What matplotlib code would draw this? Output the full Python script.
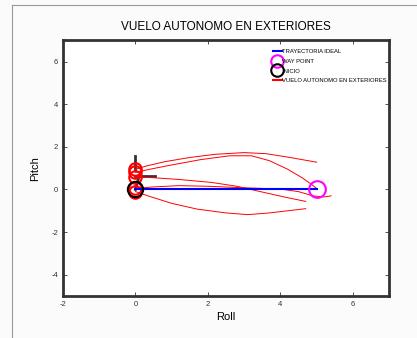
import matplotlib
matplotlib.use("Agg")
import matplotlib.pyplot as plt
from matplotlib.lines import Line2D

plt.rcParams['font.family'] = ['Liberation Sans', 'DejaVu Sans']
plt.rcParams['axes.unicode_minus'] = False

# ideal path and way point
ideal_x = [0, 5]
ideal_y = [0, 0]
waypoint = (5, 0)
start = (0, 0)

# flight runs (roll, pitch)
runs_x = [
    [0, 0.3, 0.8, 1.5, 2.2, 3.0, 3.6, 4.2, 5.0],
    [0, 0.4, 1.0, 1.8, 2.6, 3.2, 3.7, 4.2, 4.6, 4.85, 5.0],
    [0, 0.5, 1.2, 2.1, 2.8, 3.5, 4.1, 4.7],
    [0, 0.5, 1.2, 2.0, 3.0, 4.0, 4.5, 4.9, 5.2, 5.4],
    [0, 0.4, 1.0, 1.7, 2.5, 3.1, 3.7, 4.2, 4.7],
]
runs_y = [
    [0.95, 1.1, 1.3, 1.5, 1.65, 1.73, 1.68, 1.52, 1.28],
    [0.8, 0.95, 1.15, 1.4, 1.58, 1.58, 1.35, 0.95, 0.55, 0.25, 0.05],
    [0.6, 0.55, 0.47, 0.33, 0.15, -0.12, -0.35, -0.56],
    [0.05, 0.12, 0.18, 0.15, 0.08, 0.02, -0.1, -0.3, -0.35, -0.3],
    [-0.1, -0.33, -0.65, -0.92, -1.1, -1.18, -1.1, -1.0, -0.9],
]

# orientation marks near the start
heading_x = [[0, 0], [0, 0.55], [0, 0.1]]
heading_y = [[1.55, 0.9], [0.65, 0.65], [0, 0.6]]

fig = plt.figure(figsize=(4.17, 3.38), dpi=100, facecolor='#fbfbfb')
ax = fig.add_axes([0.151, 0.124, 0.782, 0.757])
ax.set_facecolor('white')

for hx, hy in zip(heading_x, heading_y):
    ax.plot(hx, hy, color='#333333', lw=2)

for rx, ry in zip(runs_x, runs_y):
    ax.plot(rx, ry, color='red', lw=0.7)
    ax.plot(rx[0], ry[0], 'o', mfc='none', mec='red', ms=9, mew=1.5)

ax.plot(ideal_x, ideal_y, color='blue', lw=1.5)
ax.plot(*waypoint, 'o', mfc='none', mec='magenta', ms=12, mew=1.5)
ax.plot(*start, 'o', mfc='none', mec='black', ms=11, mew=1.5)

ax.set_xlim(-2, 7)
ax.set_ylim(-5, 7)
ax.set_xticks([-2, 0, 2, 4, 6])
ax.set_yticks([-4, -2, 0, 2, 4, 6])
ax.tick_params(direction='in', top=True, right=True, length=3, width=0.6,
               labelsize=5.5, colors='#333333')
for s in ax.spines.values():
    s.set_linewidth(2)
    s.set_color('#333333')

ax.set_title('VUELO AUTONOMO EN EXTERIORES', fontsize=8.5, pad=7)
ax.set_xlabel('Roll', fontsize=8, labelpad=3)
ax.set_ylabel('Pitch', fontsize=8, labelpad=8)

handles = [
    Line2D([], [], color='blue', lw=1.5),
    Line2D([], [], marker='o', ls='none', mfc='none', mec='magenta', ms=9, mew=1.5),
    Line2D([], [], marker='o', ls='none', mfc='none', mec='black', ms=9, mew=1.5),
    Line2D([], [], color='red', lw=1.5),
]
labels = ['TRAYECTORIA IDEAL', 'WAY POINT', 'INICIO', 'VUELO AUTONOMO EN EXTERIORES']
ax.legend(handles, labels, loc='upper right', fontsize=4.2, frameon=False,
          handlelength=1.5, handletextpad=0.1, labelspacing=0.8,
          borderaxespad=0.0, bbox_to_anchor=(1.0, 0.975))

# outer window border
fig.add_artist(Line2D([12 / 417, 12 / 417], [0, 1 - 5 / 338], color='#999999', lw=0.8))
fig.add_artist(Line2D([12 / 417, 1], [1 - 5 / 338, 1 - 5 / 338], color='#999999', lw=0.8))

fig.savefig('out.png', dpi=100, facecolor=fig.get_facecolor())
